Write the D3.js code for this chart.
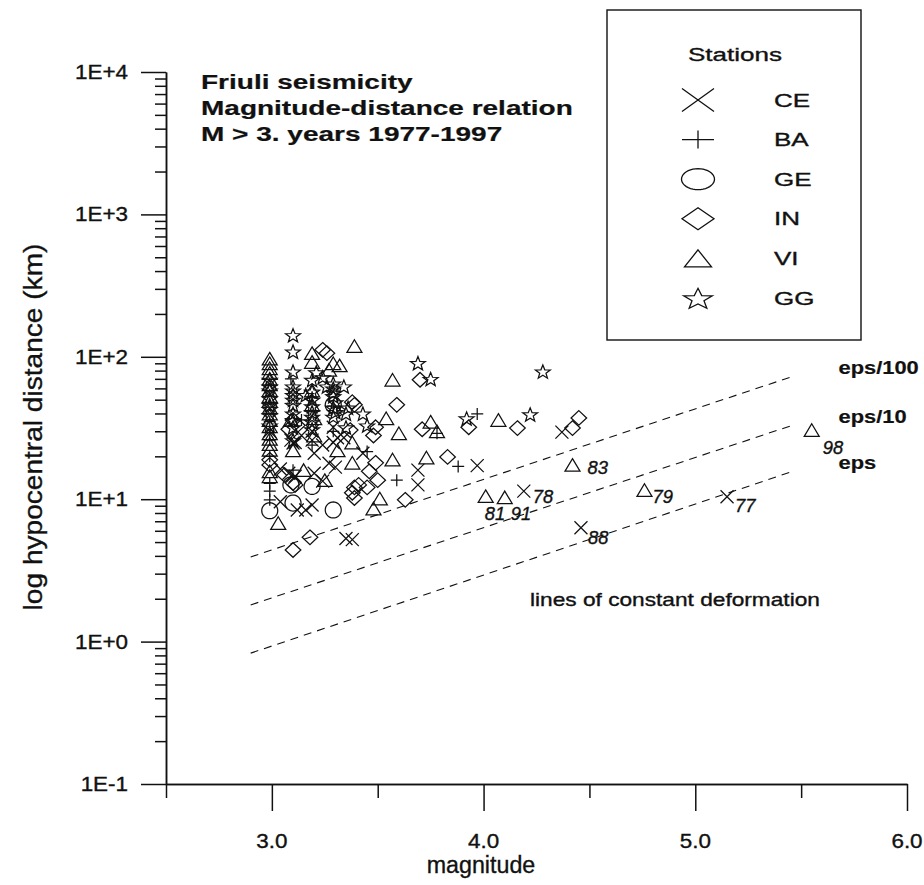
<!DOCTYPE html>
<html>
<head>
<meta charset="utf-8">
<script src="https://cdn.jsdelivr.net/npm/d3@7"></script>
<style>
  html, body { margin: 0; padding: 0; background: #fff; }
  svg { display: block; }
  text { font-family: "Liberation Sans", Arial, Helvetica, sans-serif; fill: #111; stroke: #111; stroke-width: 0.35; }
</style>
</head>
<body>
<svg id="chart" width="924" height="885"></svg>
<script>
// ---- data -------------------------------------------------------------
// stations (legend order) and their marker shapes
const stations = ["CE", "BA", "GE", "IN", "VI", "GG"];
const shapes   = ["cross", "plus", "circle", "diamond", "triangle", "star"];

// [magnitude, hypocentral distance km]
const CE = [
  [4.37, 29.6], [3.97, 17.2], [3.69, 16], [3.69, 12.6],
  [3.35, 5.3], [3.38, 5.2],
  [3.12, 8.4], [3.16, 8.4], [3.19, 9.1],
  [3.04, 16.3], [3.08, 15.2], [3.11, 14.5], [3.20, 15.2], [3.24, 13.4],
  [3.30, 16.8], [3.27, 17.9], [3.20, 21],
  [3.10, 24.8], [3.19, 26], [3.24, 24], [3.29, 25],
  [3.09, 26], [3.11, 25], [3.14, 28], [3.31, 27], [3.34, 27],
  [3.04, 9.6], [3.43, 21],
  [3.19, 30], [3.29, 32], [2.99, 30]
];
const BA = [
  [3.97, 39.7], [3.88, 17], [3.59, 13.6], [3.78, 29], [3.45, 21.6],
  [2.99, 12.9], [2.99, 11.4], [2.99, 9.9], [2.99, 26], [2.99, 20],
  [3.14, 36], [3.19, 24], [3.10, 16], [3.29, 30], [3.09, 70],
  [3.19, 52], [3.29, 45], [2.99, 35]
];
const GE = [
  [2.99, 8.3], [3.10, 9.4], [3.19, 12.3], [3.29, 8.4], [3.29, 46], [3.09, 12.6]
];
const IN = [
  [3.24, 112], [3.26, 106],
  [3.39, 46], [3.59, 46], [3.49, 32], [3.48, 28], [3.71, 31], [3.70, 69],
  [3.46, 15.7], [3.50, 13.6], [3.49, 18], [3.39, 12.1], [3.41, 12.6],
  [3.38, 11.1], [3.45, 12.1], [3.39, 10.2], [3.63, 9.9],
  [3.38, 48], [3.37, 30.6],
  [3.10, 36], [3.12, 33], [3.08, 31],
  [3.06, 14.8], [3.10, 13], [3.11, 12.6],
  [2.99, 18.9], [2.99, 17.4],
  [3.18, 5.4], [3.10, 4.4],
  [3.83, 19.8], [3.93, 32], [4.16, 31.6], [4.42, 31.6], [4.45, 37.2]
];
const VI = [
  [2.99, 97], [2.99, 90], [2.99, 83], [2.99, 77], [2.99, 70], [2.99, 64],
  [2.99, 58.5], [2.99, 53], [2.99, 49], [2.99, 44], [2.99, 40], [2.99, 36],
  [2.99, 32.5], [2.99, 29], [2.99, 26.5], [2.99, 24.4], [2.99, 22.2],
  [2.99, 15.7], [2.99, 14.5],
  [3.03, 6.8],
  [3.19, 106], [3.19, 92], [3.29, 90], [3.32, 87], [3.27, 81], [3.39, 119],
  [3.19, 58], [3.19, 46], [3.20, 37], [3.20, 28],
  [3.10, 22], [3.09, 36],
  [3.15, 16], [3.25, 13.6], [3.31, 22],
  [3.38, 25], [3.38, 18], [3.54, 37], [3.60, 29], [3.57, 19], [3.73, 19.6],
  [3.75, 35], [3.78, 30], [3.51, 10.1], [3.48, 8.6], [3.57, 69], [4.07, 36]
];
const GG = [
  [3.10, 142], [3.10, 109], [3.10, 79], [3.10, 58], [3.10, 54], [3.10, 50],
  [3.10, 40], [3.10, 32], [3.10, 26],
  [2.99, 69], [2.99, 58], [2.99, 51], [2.99, 46], [2.99, 39], [2.99, 33],
  [3.19, 69], [3.19, 57], [3.19, 50], [3.19, 41], [3.19, 35], [3.19, 31],
  [3.16, 54], [3.21, 78], [3.24, 72], [3.26, 62],
  [3.29, 65], [3.29, 56], [3.29, 53], [3.30, 48], [3.30, 41], [3.29, 38],
  [3.34, 62], [3.36, 44], [3.35, 40], [3.43, 40], [3.35, 32], [3.45, 33],
  [3.69, 90.5], [3.75, 70], [3.92, 37], [4.22, 39.5], [4.28, 79],
  [3.10, 62], [3.10, 46], [3.19, 45], [3.19, 38], [3.29, 60], [3.29, 44],
  [2.99, 62], [2.99, 43], [3.10, 36]
];
const stationData = [CE, BA, GE, IN, VI, GG];

// the largest events, annotated with their year
const eventStation = ["VI", "CE", "VI", "VI", "CE", "VI", "CE", "VI"];
const eventMag     = [4.42, 4.19, 4.01, 4.10, 4.46, 4.76, 5.15, 5.55];
const eventDist    = [17.4, 11.4, 10.5, 10.3, 6.3, 11.6, 10.4, 30.6];
const eventYear    = ["83", "78", "81", "91", "88", "79", "77", "98"];

// lines of constant deformation: [magnitude, distance] at both ends
const lineNames = ["eps/100", "eps/10", "eps"];
const lineStart = [[2.9, 3.93], [2.9, 1.81], [2.9, 0.83]];
const lineEnd   = [[5.45, 72], [5.45, 32.7], [5.45, 15.5]];

// axes
const xMajor = [3, 4, 5, 6];
const xMajorLabels = ["3.0", "4.0", "5.0", "6.0"];
const xMinor = [2.5, 3.5, 4.5, 5.5];
const yMajor = [0.1, 1, 10, 100, 1000, 10000];
const yMajorLabels = ["1E-1", "1E+0", "1E+1", "1E+2", "1E+3", "1E+4"];

const titleLines = ["Friuli seismicity", "Magnitude-distance relation", "M > 3. years 1977-1997"];

// ---- layout -----------------------------------------------------------
const svg = d3.select("#chart");
const x = d3.scaleLinear().domain([2.5, 6.0]).range([166, 907]);
const y = d3.scaleLog().domain([0.1, 10000]).range([784, 72]);
const ink = "#111";

// text with a horizontal stretch (the lettering is wide)
function label(px, py, s, o) {
  const t = svg.append("text")
    .attr("transform", `translate(${px},${py})${o.rotate ? ` rotate(${o.rotate})` : ""} scale(${o.sx || 1},1)`)
    .attr("text-anchor", o.anchor || "start")
    .style("font-size", o.size + "px")
    .style("font-weight", o.weight || "normal")
    .style("font-style", o.italic ? "italic" : "normal")
    .text(s);
  if (o.weight === "bold") t.style("stroke-width", 0.2);
  return t;
}

// marker outlines, half-width hw and half-height hh
function markerPath(shape, hw, hh) {
  const p = d3.path();
  if (shape === "cross") {
    p.moveTo(-hw, -hh); p.lineTo(hw, hh); p.moveTo(-hw, hh); p.lineTo(hw, -hh);
  } else if (shape === "plus") {
    p.moveTo(-hw, 0); p.lineTo(hw, 0); p.moveTo(0, -hh); p.lineTo(0, hh);
  } else if (shape === "circle") {
    const n = 40;
    for (let i = 0; i <= n; i++) {
      const a = 2 * Math.PI * i / n;
      const px = hw * Math.cos(a), py = hh * Math.sin(a);
      if (i === 0) p.moveTo(px, py); else p.lineTo(px, py);
    }
    p.closePath();
  } else if (shape === "diamond") {
    p.moveTo(0, -hh); p.lineTo(hw, 0); p.lineTo(0, hh); p.lineTo(-hw, 0); p.closePath();
  } else if (shape === "triangle") {
    p.moveTo(0, -hh); p.lineTo(hw, hh); p.lineTo(-hw, hh); p.closePath();
  } else if (shape === "star") {
    for (let i = 0; i < 10; i++) {
      const a = -Math.PI / 2 + i * Math.PI / 5;
      const r = i % 2 === 0 ? 1 : 0.42;
      const px = hw * r * Math.cos(a), py = hh * r * Math.sin(a) + hh * 0.12;
      if (i === 0) p.moveTo(px, py); else p.lineTo(px, py);
    }
    p.closePath();
  }
  return p.toString();
}

const plotSize = {
  cross: [6.5, 6.5], plus: [6, 6], circle: [8, 8],
  diamond: [7.8, 7.3], triangle: [7.5, 6.3], star: [7.8, 7.3]
};
const legendSize = {
  cross: [16, 11.5], plus: [16, 9], circle: [16.5, 10.5],
  diamond: [16, 11], triangle: [13.5, 8.5], star: [15, 11]
};

// ---- axes -------------------------------------------------------------
const yMinor = [];
yMajor.slice(0, -1).forEach(d => { for (let k = 2; k <= 9; k++) yMinor.push(d * k); });

const yAxisMajor = d3.axisLeft(y).tickValues(yMajor).tickSize(25).tickSizeOuter(0).tickFormat("");
const yAxisMinor = d3.axisLeft(y).tickValues(yMinor).tickSize(11).tickSizeOuter(0).tickFormat("");
const xAxisMajor = d3.axisBottom(x).tickValues(xMajor).tickSize(27).tickSizeOuter(0).tickFormat("");
const xAxisMinor = d3.axisBottom(x).tickValues(xMinor).tickSize(14).tickSizeOuter(0).tickFormat("");

function styleAxis(g) {
  g.selectAll("path, line").attr("stroke", ink).attr("stroke-width", 1.5);
}
svg.append("g").attr("transform", `translate(${x(2.5)},0)`).call(yAxisMajor).call(styleAxis);
svg.append("g").attr("transform", `translate(${x(2.5)},0)`).call(yAxisMinor).call(styleAxis);
svg.append("g").attr("transform", `translate(0,${y(0.1)})`).call(xAxisMajor).call(styleAxis);
svg.append("g").attr("transform", `translate(0,${y(0.1)})`).call(xAxisMinor).call(styleAxis);

yMajor.forEach((v, i) => label(128, y(v) + 7, yMajorLabels[i], { size: 19.5, sx: 1.15, anchor: "end" }));
xMajor.forEach((v, i) => label(x(v), 848, xMajorLabels[i], { size: 19.5, sx: 1.15, anchor: "middle" }));

label(481, 873, "magnitude", { size: 24.5, sx: 0.95, anchor: "middle" });
label(42, 427, "log hypocentral distance (km)", { size: 26.5, sx: 1.06, anchor: "middle", rotate: -90 });

// ---- title ------------------------------------------------------------
titleLines.forEach((s, i) => label(201, 89 + i * 26, s, { size: 20, sx: 1.4, weight: "bold" }));

// ---- lines of constant deformation -------------------------------------
lineNames.forEach((name, i) => {
  svg.append("line")
    .attr("x1", x(lineStart[i][0])).attr("y1", y(lineStart[i][1]))
    .attr("x2", x(lineEnd[i][0])).attr("y2", y(lineEnd[i][1]))
    .attr("stroke", ink).attr("stroke-width", 1.1).attr("stroke-dasharray", "8,6");
  label(x(lineEnd[i][0]) + 48, y(lineEnd[i][1]) - 3, name, { size: 19, sx: 1.15, weight: "bold" });
});
label(530, 606, "lines of constant deformation", { size: 18, sx: 1.26 });

// ---- data points -------------------------------------------------------
stationData.forEach((pts, si) => {
  const shape = shapes[si];
  const [hw, hh] = plotSize[shape];
  svg.append("g").selectAll("path").data(pts).join("path")
    .attr("transform", d => `translate(${x(d[0])},${y(d[1])})`)
    .attr("d", markerPath(shape, hw, hh))
    .attr("fill", "none").attr("stroke", ink).attr("stroke-width", 1.25);
});

// annotated events
const yearOffset = {
  "83": [15, 9], "78": [9, 12], "81": [-1, 24], "91": [6, 23],
  "88": [7, 16], "79": [8, 13], "77": [8, 15], "98": [11, 24]
};
eventYear.forEach((yr, i) => {
  const shape = shapes[stations.indexOf(eventStation[i])];
  const [hw, hh] = plotSize[shape];
  const px = x(eventMag[i]), py = y(eventDist[i]);
  svg.append("path")
    .attr("transform", `translate(${px},${py})`)
    .attr("d", markerPath(shape, hw, hh))
    .attr("fill", "none").attr("stroke", ink).attr("stroke-width", 1.25);
  const off = yearOffset[yr];
  label(px + off[0], py + off[1], yr, { size: 18, sx: 1.02, italic: true });
});

// ---- legend -----------------------------------------------------------
svg.append("rect")
  .attr("x", 607).attr("y", 10).attr("width", 254).attr("height", 330)
  .attr("fill", "none").attr("stroke", ink).attr("stroke-width", 1.4);
label(735, 61, "Stations", { size: 19, sx: 1.37, anchor: "middle" });
stations.forEach((st, i) => {
  const cy = 100 + i * 39.6;
  const [hw, hh] = legendSize[shapes[i]];
  svg.append("path")
    .attr("transform", `translate(698,${cy})`)
    .attr("d", markerPath(shapes[i], hw, hh))
    .attr("fill", "none").attr("stroke", ink).attr("stroke-width", 1.3);
  label(774, cy + 6.5, st, { size: 19, sx: 1.37 });
});
</script>
</body>
</html>
